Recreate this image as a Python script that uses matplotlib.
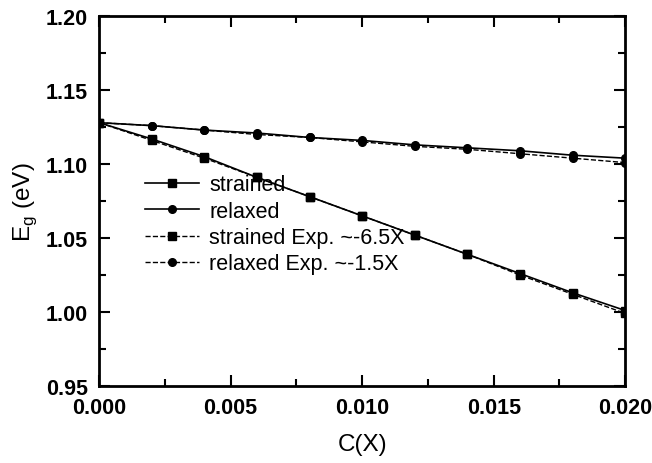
import matplotlib
matplotlib.use('Agg')
import matplotlib.pyplot as plt
from matplotlib.ticker import MultipleLocator

plt.rcParams['font.family'] = ['Liberation Sans', 'DejaVu Sans']

# concentration C(X)
x = [0.000, 0.002, 0.004, 0.006, 0.008, 0.010, 0.012, 0.014, 0.016, 0.018, 0.020]

# band gap (eV)
strained = [1.128, 1.117, 1.105, 1.091, 1.078, 1.065, 1.052, 1.039, 1.026, 1.013, 1.001]
relaxed = [1.128, 1.126, 1.123, 1.121, 1.118, 1.116, 1.113, 1.111, 1.109, 1.106, 1.104]
strained_exp = [1.128, 1.116, 1.104, 1.091, 1.078, 1.065, 1.052, 1.039, 1.025, 1.012, 0.999]
relaxed_exp = [1.128, 1.126, 1.123, 1.120, 1.118, 1.115, 1.112, 1.110, 1.107, 1.104, 1.101]

fig = plt.figure(figsize=(6.52, 4.64), dpi=100)
ax = fig.add_axes([0.152, 0.166, 0.807, 0.797])

ax.plot(x, strained, '-s', color='black', lw=1.2, ms=5.5, label='strained')
ax.plot(x, relaxed, '-o', color='black', lw=1.2, ms=5.5, label='relaxed')
ax.plot(x, strained_exp, '--s', color='black', lw=1.0, ms=5.5, label='strained Exp. ~-6.5X')
ax.plot(x, relaxed_exp, '--o', color='black', lw=1.0, ms=5.5, label='relaxed Exp. ~-1.5X')

ax.set_xlim(0, 0.020)
ax.set_ylim(0.95, 1.20)
ax.xaxis.set_major_locator(MultipleLocator(0.005))
ax.xaxis.set_minor_locator(MultipleLocator(0.0025))
ax.yaxis.set_major_locator(MultipleLocator(0.05))
ax.yaxis.set_minor_locator(MultipleLocator(0.025))
ax.xaxis.set_major_formatter(plt.FormatStrFormatter('%.3f'))
ax.yaxis.set_major_formatter(plt.FormatStrFormatter('%.2f'))

ax.tick_params(which='both', direction='in', top=True, right=True, width=1.5)
ax.tick_params(which='major', length=8)
ax.tick_params(which='minor', length=5)
ax.tick_params(axis='x', pad=8)
ax.tick_params(axis='y', pad=8)
for lab in ax.get_xticklabels() + ax.get_yticklabels():
    lab.set_fontweight('bold')
    lab.set_fontsize(15.5)
for sp in ax.spines.values():
    sp.set_linewidth(2)

ax.set_xlabel('C(X)', fontsize=17.5, labelpad=11)
ax.set_ylabel('E$_\\mathregular{g}$ (eV)', fontsize=17.5, labelpad=5)

ax.legend(loc='center left', bbox_to_anchor=(0.07, 0.437), borderaxespad=0,
          frameon=False, fontsize=15.5, handlelength=2.55, handletextpad=0.45,
          labelspacing=0.25)

fig.savefig('out.png', dpi=100)
